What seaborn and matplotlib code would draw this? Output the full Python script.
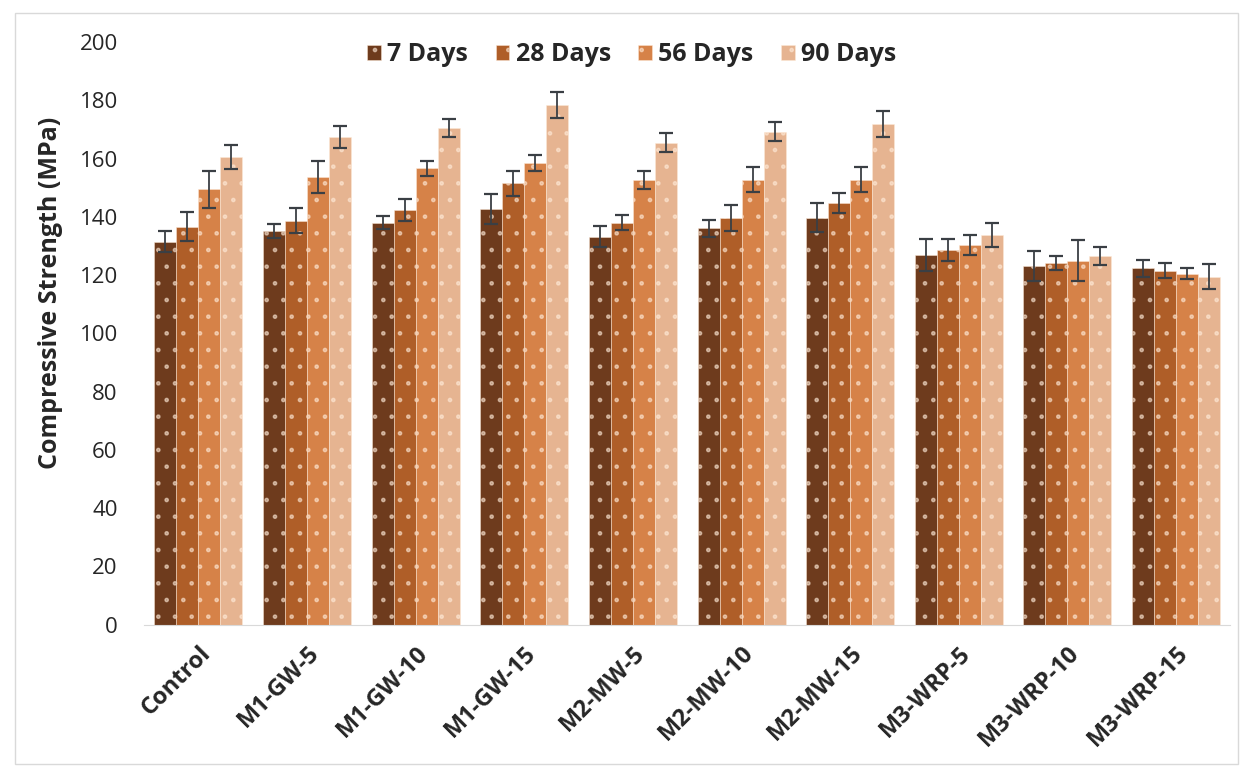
import numpy as np
import pandas as pd
import seaborn as sns
import matplotlib.pyplot as plt
from matplotlib.patches import Rectangle

# Data
mixes = ["Control", "M1-GW-5", "M1-GW-10", "M1-GW-15", "M2-MW-5",
         "M2-MW-10", "M2-MW-15", "M3-WRP-5", "M3-WRP-10", "M3-WRP-15"]
ages = ["7 Days", "28 Days", "56 Days", "90 Days"]

days7 = [131.5, 135.2, 138.0, 142.7, 133.2, 136.0, 139.7, 126.9, 123.2, 122.3]
days28 = [136.6, 138.6, 142.4, 151.5, 138.0, 139.7, 144.8, 128.6, 124.1, 121.5]
days56 = [149.4, 153.7, 156.6, 158.5, 152.7, 152.7, 152.8, 130.4, 125.0, 120.5]
days90 = [160.5, 167.4, 170.5, 178.4, 165.5, 169.2, 171.9, 133.8, 126.5, 119.5]

err7 = [3.5, 2.5, 2.3, 5.0, 3.5, 3.0, 5.0, 5.4, 5.2, 2.8]
err28 = [5.0, 4.3, 3.8, 4.4, 2.5, 4.5, 3.5, 3.7, 2.5, 2.6]
err56 = [6.5, 5.5, 2.6, 2.7, 3.2, 4.3, 4.2, 3.5, 7.0, 2.0]
err90 = [4.2, 3.8, 3.0, 4.5, 3.4, 3.3, 4.4, 4.0, 3.0, 4.2]

colors = ["#7B3810", "#C55A11", "#ED7D31", "#F4B183"]

values = [days7, days28, days56, days90]
errors = [err7, err28, err56, err90]

df = pd.DataFrame({
    "Mix": np.tile(mixes, len(ages)),
    "Age": np.repeat(ages, len(mixes)),
    "Strength": np.concatenate(values),
})

sns.set_style("white")
plt.rcParams["font.family"] = ["Open Sans", "DejaVu Sans"]
plt.rcParams["hatch.linewidth"] = 1.0

fig = plt.figure(figsize=(12.53, 7.78), dpi=100)
ax = fig.add_axes([0.115, 0.197, 0.867, 0.749])

sns.barplot(data=df, x="Mix", y="Strength", hue="Age", palette=colors,
            width=0.81, gap=0, errorbar=None, ax=ax,
            edgecolor=(1.0, 0.92, 0.85, 0.55), linewidth=0.6, hatch=".")

# error bars from drawn bars
for cont, err in zip(ax.containers, errors):
    xs = [p.get_x() + p.get_width() / 2 for p in cont.patches]
    ys = [p.get_height() for p in cont.patches]
    ax.errorbar(xs, ys, yerr=err, fmt="none", ecolor="#3a3f44",
                elinewidth=1.3, capsize=5, capthick=1.6, zorder=5)

ax.set_ylim(0, 200)
ax.set_xlim(-0.5, len(mixes) - 0.5)
ax.set_yticks(np.arange(0, 201, 20))
ax.set_yticklabels([str(v) for v in range(0, 201, 20)], fontsize=16,
                   color="#262626")
ax.tick_params(axis="y", length=0, pad=19)
ax.tick_params(axis="x", length=0, pad=12)
ax.set_xticks(range(len(mixes)))
ax.set_xticklabels(mixes, rotation=45, ha="right", rotation_mode="anchor",
                   fontsize=17, fontweight="bold", color="#262626")
ax.set_xlabel("")
ax.set_ylabel("Compressive Strength (MPa)", fontsize=18, fontweight="bold")
ax.yaxis.set_label_coords(-0.075, 0.57)

for s in ["top", "right", "left"]:
    ax.spines[s].set_visible(False)
ax.spines["bottom"].set_color("#d9d9d9")

leg = ax.legend(loc="center", bbox_to_anchor=(0.449, 0.978), ncol=4,
                frameon=False, handlelength=0.55, handleheight=0.55,
                handletextpad=0.25, columnspacing=1.1,
                prop={"weight": "bold", "size": 18})

fig.patches.append(Rectangle((0.012, 0.018), 0.976, 0.965, transform=fig.transFigure,
                             fill=False, edgecolor="#d9d9d9", linewidth=1))

fig.savefig("out.png", dpi=100)
